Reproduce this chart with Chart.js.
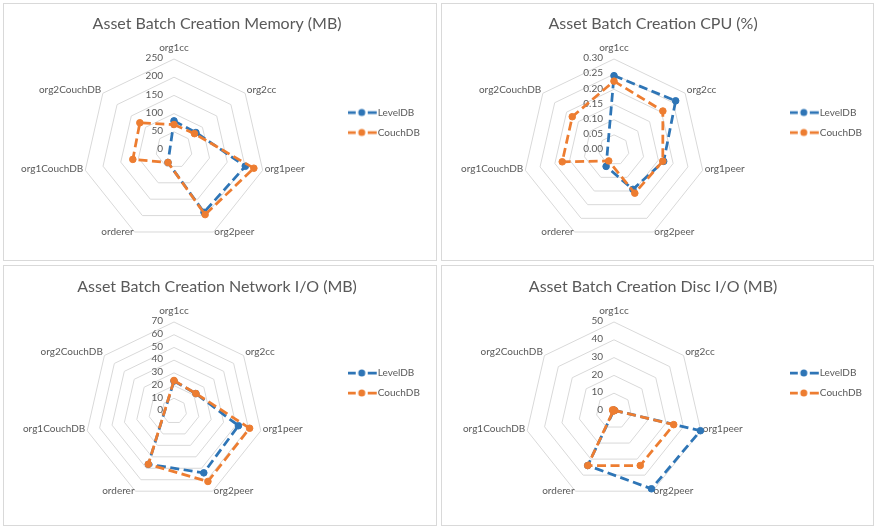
<!DOCTYPE html>
<html>
<head>
<meta charset="utf-8">
<script src="https://cdn.jsdelivr.net/npm/chart.js@4.4.1/dist/chart.umd.min.js"></script>
<style>
html,body{margin:0;padding:0;background:#fff;width:879px;height:531px;overflow:hidden}
.panel{position:absolute;box-sizing:border-box;border:1px solid #d9d9d9;background:#fff}
.panel canvas{display:block}
</style>
</head>
<body>
<div class="panel" style="left:3px;top:3px;width:434px;height:258px"><canvas id="c1" width="432" height="256"></canvas></div>
<div class="panel" style="left:441px;top:3px;width:433px;height:258px"><canvas id="c2" width="431" height="256"></canvas></div>
<div class="panel" style="left:3px;top:265px;width:434px;height:261px"><canvas id="c3" width="432" height="259"></canvas></div>
<div class="panel" style="left:441px;top:265px;width:433px;height:261px"><canvas id="c4" width="431" height="259"></canvas></div>
<script>
// ---- data ----
const categories = ['org1cc', 'org2cc', 'org1peer', 'org2peer', 'orderer', 'org1CouchDB', 'org2CouchDB'];
const seriesNames = ['LevelDB', 'CouchDB'];

const memLevelDB = [80, 77, 201, 190, 38, null, null];
const memCouchDB = [70, 72, 225, 197, 38, 116, 120];
const memTicks = ['0', '50', '100', '150', '200', '250'];

const cpuLevelDB = [0.245, 0.26, 0.168, 0.144, 0.06, null, null];
const cpuCouchDB = [0.227, 0.206, 0.165, 0.158, 0.04, 0.175, 0.176];
const cpuTicks = ['0.00', '0.05', '0.10', '0.15', '0.20', '0.25', '0.30'];

const netLevelDB = [23.6, 22, 52, 54, 46.5, null, null];
const netCouchDB = [24, 22, 61, 61.5, 46.5, null, null];
const netTicks = ['0', '10', '20', '30', '40', '50', '60', '70'];

const discLevelDB = [0.5, 0.5, 49.8, 48.5, 34, null, null];
const discCouchDB = [0.5, 0.5, 34.4, 34, 34, 0.5, 1];
const discTicks = ['0', '10', '20', '30', '40', '50'];

// ---- style ----
const BLUE = '#2E75B6';
const ORANGE = '#ED7D31';
const TEXT = '#595959';
const FONT = 'Lato';

function swatch(color) {
  const c = document.createElement('canvas');
  c.width = 32; c.height = 10;
  const g = c.getContext('2d');
  g.strokeStyle = color; g.lineWidth = 2.75;
  g.beginPath(); g.moveTo(0, 5); g.lineTo(8, 5); g.moveTo(20, 5); g.lineTo(29, 5); g.stroke();
  g.fillStyle = color; g.beginPath(); g.arc(14, 5, 3.5, 0, Math.PI * 2); g.fill();
  return c;
}
const swatches = [swatch(BLUE), swatch(ORANGE)];

const mctx = document.createElement('canvas').getContext('2d');
mctx.font = '10px ' + FONT;
const legendTextW = Math.max(...seriesNames.map(n => mctx.measureText(n).width));

const radarLabels = {
  id: 'radarLabels',
  beforeDatasetsDraw(chart, args, opts) {
    const s = chart.scales.r, ctx = chart.ctx;
    ctx.save();
    ctx.font = '10px ' + FONT;
    ctx.fillStyle = TEXT;
    ctx.textAlign = 'right';
    ctx.textBaseline = 'middle';
    opts.ticks.forEach(t => {
      const d = s.getDistanceFromCenterForValue(Number(t));
      ctx.fillText(t, s.xCenter - 11, s.yCenter - d - 1);
    });
    chart.data.labels.forEach((lab, i) => {
      const p = s.getPointPosition(i, s.drawingArea + (i === 0 ? 6 : 2));
      if (Math.abs(p.x - s.xCenter) < 1) {
        ctx.textAlign = 'center'; ctx.textBaseline = 'bottom';
        ctx.fillText(lab, p.x, p.y);
      } else {
        ctx.textAlign = p.x > s.xCenter ? 'left' : 'right';
        ctx.textBaseline = 'middle';
        ctx.fillText(lab, p.x, p.y - 2);
      }
    });
    ctx.restore();
  }
};

function makeChart(id, title, level, couch, ticks, geo) {
  const canvas = document.getElementById(id);
  const W = canvas.width, H = canvas.height;
  const legendPad = 10, boxW = 18;
  const legendW = legendPad + boxW + 5 + legendTextW + 10;
  const legendLeft = geo.textX - legendPad - boxW - 5;
  const padLeft = 2 * geo.cx + 1 - legendLeft;
  const padRight = W - legendLeft - legendW;
  const areaTop = geo.cy - geo.r;
  const padBottom = H - (areaTop + 2 * geo.r);
  const titleLine = 16 * 1.2;
  const tTop = geo.titleY - titleLine / 2;
  const tBottom = areaTop - tTop - titleLine;
  const vals = ticks.map(Number);
  const ds = (label, data, color, order) => ({
    label, data, order,
    borderColor: color, backgroundColor: color,
    borderWidth: 2.75, borderDash: [9, 4.5],
    pointRadius: 3.3, pointBorderWidth: 1, pointBorderColor: color, pointBackgroundColor: color,
    pointStyle: 'circle', fill: false, spanGaps: true, tension: 0
  });
  return new Chart(canvas, {
    type: 'radar',
    data: {
      labels: categories,
      datasets: [ds(seriesNames[0], level, BLUE, 1), ds(seriesNames[1], couch, ORANGE, 0)]
    },
    options: {
      responsive: false,
      animation: false,
      layout: { padding: { left: padLeft, right: padRight, top: 0, bottom: padBottom } },
      plugins: {
        title: {
          display: true, text: title, color: TEXT,
          font: { family: FONT, size: 16, weight: 'normal', lineHeight: 1.2 },
          padding: { top: tTop, bottom: tBottom }
        },
        legend: {
          position: 'right', align: 'center',
          labels: {
            usePointStyle: true, pointStyleWidth: boxW, padding: legendPad,
            color: TEXT, font: { family: FONT, size: 10 },
            sort: (a, b) => a.datasetIndex - b.datasetIndex,
            generateLabels(chart) {
              const items = Chart.defaults.plugins.legend.labels.generateLabels(chart);
              items.forEach(it => { it.pointStyle = swatches[it.datasetIndex]; });
              return items;
            }
          }
        },
        tooltip: { enabled: false },
        radarLabels: { ticks }
      },
      scales: {
        r: {
          min: vals[0], max: vals[vals.length - 1],
          ticks: { display: false, stepSize: vals[1] - vals[0] },
          pointLabels: { display: false },
          grid: { color: '#d9d9d9', lineWidth: 1 },
          angleLines: { display: false }
        }
      }
    },
    plugins: [radarLabels]
  });
}

makeChart('c1', 'Asset Batch Creation Memory (MB)', memLevelDB, memCouchDB, memTicks,
  { cx: 170, cy: 146, r: 91, textX: 373.7, titleY: 20 });
makeChart('c2', 'Asset Batch Creation CPU (%)', cpuLevelDB, cpuCouchDB, cpuTicks,
  { cx: 168, cy: 146, r: 91, textX: 377.8, titleY: 20 });
makeChart('c3', 'Asset Batch Creation Network I/O (MB)', netLevelDB, netCouchDB, netTicks,
  { cx: 170, cy: 145, r: 89, textX: 373.7, titleY: 21 });
makeChart('c4', 'Asset Batch Creation Disc I/O (MB)', discLevelDB, discCouchDB, discTicks,
  { cx: 168, cy: 145, r: 89, textX: 377.8, titleY: 21 });
</script>
</body>
</html>
